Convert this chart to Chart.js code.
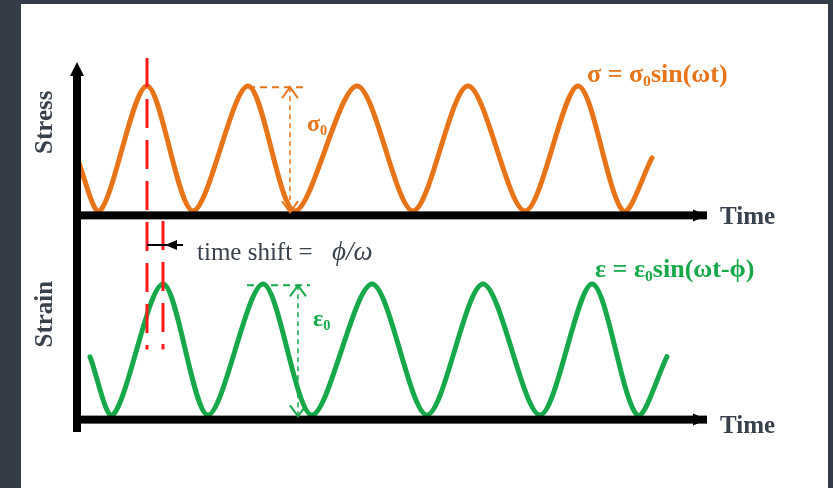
<!DOCTYPE html>
<html>
<head>
<meta charset="utf-8">
<script src="https://cdn.jsdelivr.net/npm/chart.js@4.4.0/dist/chart.umd.min.js"></script>
<style>
  html, body { margin: 0; padding: 0; background: #343d47; }
  #paper { position: absolute; left: 21px; top: 4px; width: 807px; height: 484px; background: #fff; }
  #chart { position: absolute; left: 0; top: 0; }
</style>
</head>
<body>
<div id="paper"></div>
<canvas id="chart" width="833" height="488"></canvas>
<script>
// stress: time (arbitrary units) and normalised amplitude, start, troughs/peaks, end
const stressTime = [0, 2.3, 7.0, 11.6, 17.1, 21.8, 28.0, 33.6, 39.1, 44.8, 50.1, 54.6, 57.5];
const stressValue = [-0.15, -1, 1, -1, 1, -1, 1, -1, 1, -1, 1, -1, -0.15];

// strain lags behind stress
const strainTime = [1.3, 3.6, 8.6, 13.1, 18.6, 23.5, 29.5, 35.0, 40.6, 46.3, 51.5, 56.0, 59.0];
const strainValue = [-0.11, -1, 1, -1, 1, -1, 1, -1, 1, -1, 1, -1, -0.11];

// peaks marked by the red lines (stress peak, strain peak)
const shiftMarks = [7.0, 8.6];
const axisEnd = 63;
const baseline = -1.07;

const orange = '#e8741a', green = '#17a84a', ink = '#39414d', red = '#ff1a1a';
const serif = '"Liberation Serif", "Times New Roman", serif';

function richText(ctx, parts, x, y, size, color) {
  ctx.fillStyle = color;
  ctx.textAlign = 'left';
  ctx.textBaseline = 'middle';
  parts.forEach(p => {
    const s = p.sub ? size * 0.6 : size;
    ctx.font = 'bold ' + s + 'px ' + serif;
    ctx.fillText(p.text, x, p.sub ? y + size * 0.28 : y);
    x += ctx.measureText(p.text).width;
  });
}

function chevron(ctx, x, y, dir) {
  ctx.beginPath();
  ctx.moveTo(x - 8, y - dir * 11);
  ctx.lineTo(x, y);
  ctx.lineTo(x + 8, y - dir * 11);
  ctx.stroke();
}

function amplitude(ctx, xs, ys, tPeak, tEnd, tArrow, color) {
  const top = ys.getPixelForValue(0.98), bot = ys.getPixelForValue(-1.02);
  const xa = xs.getPixelForValue(tArrow);
  ctx.strokeStyle = color;
  ctx.lineWidth = 2;
  ctx.setLineDash([7, 5]);
  ctx.beginPath();
  ctx.moveTo(xs.getPixelForValue(tPeak), top);
  ctx.lineTo(xs.getPixelForValue(tEnd), top);
  ctx.stroke();
  ctx.lineWidth = 1.5;
  ctx.setLineDash([5, 4]);
  ctx.beginPath();
  ctx.moveTo(xa, top);
  ctx.lineTo(xa, bot);
  ctx.stroke();
  ctx.setLineDash([]);
  ctx.lineWidth = 2;
  chevron(ctx, xa, top, -1);
  chevron(ctx, xa, bot, 1);
}

const diagram = {
  id: 'diagram',
  afterDatasetsDraw(chart) {
    const ctx = chart.ctx;
    const x = chart.scales.x, yS = chart.scales.yS, yE = chart.scales.yE;
    const x0 = x.getPixelForValue(0), xEnd = x.getPixelForValue(axisEnd);
    const baseS = yS.getPixelForValue(baseline), baseE = yE.getPixelForValue(baseline);
    ctx.save();

    // red dashed lines through the two peaks
    ctx.strokeStyle = red;
    ctx.lineWidth = 3;
    ctx.setLineDash([29, 12]);
    [[shiftMarks[0], yS.getPixelForValue(1.45)], [shiftMarks[1], yS.getPixelForValue(-1.16)]].forEach(m => {
      const px = x.getPixelForValue(m[0]);
      ctx.beginPath();
      ctx.moveTo(px, m[1]);
      ctx.lineTo(px, yE.getPixelForValue(0));
      ctx.stroke();
    });
    ctx.setLineDash([]);

    // axes
    ctx.fillStyle = '#000';
    const yTop = yS.getPixelForValue(1.176), yTip = yS.getPixelForValue(1.384);
    const yBottom = yE.getPixelForValue(-1.259);
    ctx.fillRect(x0 - 4, yTop, 8, yBottom - yTop);
    ctx.beginPath();
    ctx.moveTo(x0 - 7, yTop + 1);
    ctx.lineTo(x0, yTip);
    ctx.lineTo(x0 + 7, yTop + 1);
    ctx.closePath();
    ctx.fill();
    [baseS, baseE].forEach(b => {
      ctx.fillRect(x0 - 4, b - 4, xEnd - x0 + 4, 8);
      ctx.beginPath();
      ctx.moveTo(xEnd - 14, b - 6);
      ctx.lineTo(xEnd, b);
      ctx.lineTo(xEnd - 14, b + 6);
      ctx.closePath();
      ctx.fill();
    });

    // time shift arrow
    const ya = yE.getPixelForValue(1.596);
    ctx.strokeStyle = '#000';
    ctx.lineWidth = 2;
    ctx.beginPath();
    ctx.moveTo(x.getPixelForValue(shiftMarks[0]), ya);
    ctx.lineTo(x.getPixelForValue(10.6), ya);
    ctx.stroke();
    ctx.beginPath();
    ctx.moveTo(x.getPixelForValue(8.8), ya);
    ctx.lineTo(x.getPixelForValue(10.0), ya - 5);
    ctx.lineTo(x.getPixelForValue(10.0), ya + 5);
    ctx.closePath();
    ctx.fill();

    // amplitude markers
    amplitude(ctx, x, yS, 17.1, 22.6, 21.3, orange);
    amplitude(ctx, x, yE, 17.0, 23.3, 22.1, green);

    // axis titles
    ctx.fillStyle = ink;
    ctx.font = 'bold 25px ' + serif;
    ctx.textAlign = 'center';
    ctx.textBaseline = 'middle';
    [['Stress', yS.getPixelForValue(0.42)], ['Strain', yE.getPixelForValue(0.54)]].forEach(l => {
      ctx.save();
      ctx.translate(x0 - 31, l[1]);
      ctx.rotate(-Math.PI / 2);
      ctx.fillText(l[0], 0, 0);
      ctx.restore();
    });
    ctx.textAlign = 'left';
    ctx.fillText('Time', xEnd + 13, baseS + 2);
    ctx.fillText('Time', xEnd + 13, baseE + 7);

    // time shift label
    const yt = yE.getPixelForValue(1.474);
    ctx.font = '25px ' + serif;
    ctx.fillText('time shift =', x.getPixelForValue(12.0), yt);
    ctx.font = 'italic 27px ' + serif;
    ctx.fillText('ϕ/ω', x.getPixelForValue(25.5), yt);

    // formulas and amplitude labels
    richText(ctx, [{text: 'σ = σ'}, {text: '0', sub: true}, {text: 'sin(ωt)'}],
      x.getPixelForValue(51.0), yS.getPixelForValue(1.176), 26, orange);
    richText(ctx, [{text: 'ε = ε'}, {text: '0', sub: true}, {text: 'sin(ωt-ϕ)'}],
      x.getPixelForValue(51.8), yE.getPixelForValue(1.214), 26, green);
    richText(ctx, [{text: 'σ'}, {text: '0', sub: true}],
      x.getPixelForValue(23.0), yS.getPixelForValue(0.376), 24, orange);
    richText(ctx, [{text: 'ε'}, {text: '0', sub: true}],
      x.getPixelForValue(23.6), yE.getPixelForValue(0.45), 24, green);

    ctx.restore();
  }
};

const toPoints = (ts, vs) => ts.map((t, i) => ({x: t, y: vs[i]}));

new Chart(document.getElementById('chart'), {
  type: 'line',
  data: {
    datasets: [{
      label: 'Stress',
      data: toPoints(stressTime, stressValue),
      yAxisID: 'yS',
      borderColor: orange,
      borderWidth: 5,
      tension: 0.3,
      pointRadius: 0,
      borderCapStyle: 'round',
      borderJoinStyle: 'round'
    }, {
      label: 'Strain',
      data: toPoints(strainTime, strainValue),
      yAxisID: 'yE',
      borderColor: green,
      borderWidth: 5,
      tension: 0.3,
      pointRadius: 0,
      borderCapStyle: 'round',
      borderJoinStyle: 'round'
    }]
  },
  options: {
    responsive: false,
    animation: false,
    layout: { padding: { left: 77, right: 126, top: 50, bottom: 38 } },
    plugins: { legend: { display: false }, tooltip: { enabled: false } },
    scales: {
      x: { type: 'linear', min: 0, max: axisEnd, display: false },
      yS: { type: 'linear', min: -4.824, max: 1.576, display: false },
      yE: { type: 'linear', min: -1.534, max: 4.573, display: false }
    }
  },
  plugins: [diagram]
});
</script>
</body>
</html>
